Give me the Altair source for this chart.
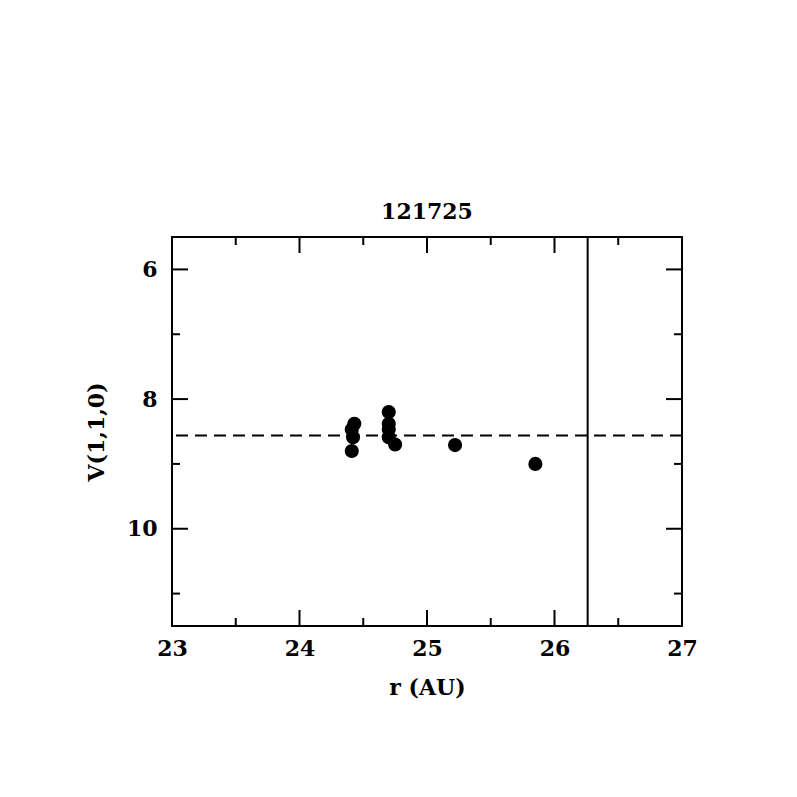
import altair as alt
import pandas as pd

# data
r_au = [24.41, 24.42, 24.41, 24.43, 24.70, 24.70, 24.70, 24.70, 24.75, 25.22, 25.85]
v110 = [8.80, 8.59, 8.47, 8.38, 8.20, 8.38, 8.47, 8.59, 8.70, 8.71, 9.00]
mean_v = [8.56]
r_limit = [26.26]
x_labels = [23, 24, 25, 26, 27]
y_labels = [6, 8, 10]
x_major = [23, 24, 25, 26, 27]
x_minor = [23.5, 24.5, 25.5, 26.5]
y_major = [6, 8, 10]
y_minor = [7, 9, 11]
title_text = "121725"

W, H = 510, 389
FONT = "DejaVu Serif"
FS = 22
MAJ, MIN = 16, 8

xs = alt.Scale(domain=[23, 27], nice=False, zero=False)
ys = alt.Scale(domain=[5.5, 11.5], nice=False, zero=False, reverse=True)

x_axis = alt.Axis(values=x_labels, title="r (AU)", ticks=False, domain=False, grid=False,
                  labelPadding=12, titlePadding=18, labelFlush=False, labelOverlap=False)
y_axis = alt.Axis(values=y_labels, title="V(1,1,0)", ticks=False, domain=False, grid=False,
                  labelPadding=15, titlePadding=18, labelFlush=False, labelOverlap=False)

X = lambda: alt.X("r:Q", scale=xs, axis=x_axis)
Y = lambda: alt.Y("v:Q", scale=ys, axis=y_axis)

pts = alt.Chart(pd.DataFrame({"r": r_au, "v": v110})).mark_circle(
    size=200, color="black", opacity=1
).encode(x=X(), y=Y())

def xticks(vals, length):
    df = pd.DataFrame({"r": vals})
    base = alt.Chart(df).mark_rule(color="black", strokeWidth=2)
    bot = base.encode(x=X(), y=alt.value(H), y2=alt.value(H - length))
    top = base.encode(x=X(), y=alt.value(0), y2=alt.value(length))
    return [bot, top]

def yticks(vals, length):
    df = pd.DataFrame({"v": vals})
    base = alt.Chart(df).mark_rule(color="black", strokeWidth=2)
    lft = base.encode(y=Y(), x=alt.value(0), x2=alt.value(length))
    rgt = base.encode(y=Y(), x=alt.value(W), x2=alt.value(W - length))
    return [lft, rgt]

hline = alt.Chart(pd.DataFrame({"v": mean_v})).mark_rule(
    color="black", strokeWidth=2, strokeDash=[12, 7]
).encode(y=Y())

vline = alt.Chart(pd.DataFrame({"r": r_limit})).mark_rule(
    color="black", strokeWidth=2
).encode(x=X())

layers = [pts, hline, vline] + xticks(x_major, MAJ) + xticks(x_minor, MIN) + yticks(y_major, MAJ) + yticks(y_minor, MIN)

chart = alt.layer(*layers).properties(
    width=W, height=H,
    title=alt.TitleParams(title_text, font=FONT, fontSize=FS, fontWeight="bold",
                          color="black", offset=12),
    autosize=alt.AutoSizeParams(type="none"),
    padding={"left": 164, "top": 229, "right": 107, "bottom": 163},
).configure_view(
    stroke="black", strokeWidth=2
).configure_axis(
    labelFont=FONT, labelFontSize=FS, labelColor="black", labelFontWeight="bold",
    titleFont=FONT, titleFontSize=FS, titleFontWeight="bold", titleColor="black",
)

chart.save("out.html", embed_options={"renderer": "svg", "actions": False})
